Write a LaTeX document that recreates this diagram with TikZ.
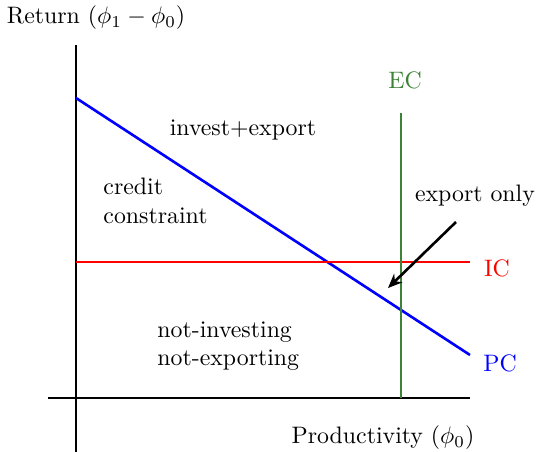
\documentclass[tikz,border=0pt]{standalone}
\usetikzlibrary{arrows.meta}
\definecolor{ecgreen}{RGB}{60,130,55}
\begin{document}
\begin{tikzpicture}[x=0.42pt,y=-0.42pt,
  axis/.style={line width=1.1pt,black},
  curve/.style={line width=1.1pt},
  lbl/.style={inner sep=0pt,align=left}]
\useasboundingbox (0,0) rectangle (536,452);
% axes
\coordinate (ytop) at (76,45);
\coordinate (ybot) at (76,452);
\coordinate (xl) at (48,398);
\coordinate (xr) at (470,398);
\draw[axis] (ytop) -- (ybot);
\draw[axis] (xl) -- (xr);
% curves
\coordinate (pcA) at (76,98);
\coordinate (pcB) at (470,355);
\coordinate (icA) at (76,262);
\coordinate (icB) at (470,262);
\coordinate (ecA) at (401,113);
\coordinate (ecB) at (401,398);
\draw[curve,blue] (pcA) -- (pcB);
\draw[curve,red] (icA) -- (icB);
\draw[curve,ecgreen] (ecA) -- (ecB);
% labels
\node[lbl] (ylab) at (96,18) {Return $(\phi_1-\phi_0)$};
\node[lbl] (xlab) at (383,438) {Productivity $(\phi_0)$};
\node[lbl,text=ecgreen] (ec) at (405,80) {EC};
\node[lbl,text=red] (ic) at (497,268) {IC};
\node[lbl,text=blue] (pc) at (500,363) {PC};
\node[lbl] (ie) at (243,130) {invest+export};
\node[lbl,anchor=west] (cc) at (103,201) {credit\\constraint};
\node[lbl,anchor=west] (ni) at (157,346) {not-investing\\not-exporting};
\node[lbl] (eo) at (475,196) {export only};
\coordinate (arS) at (456,222);
\coordinate (arE) at (388,288);
\draw[line width=1.1pt,-{Stealth[length=6pt,width=5pt]}] (arS) -- (arE);
\end{tikzpicture}
\end{document}
